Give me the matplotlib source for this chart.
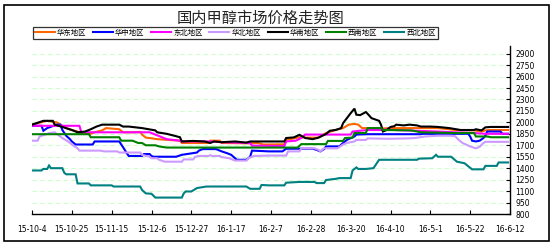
import matplotlib
matplotlib.use("Agg")
import matplotlib.pyplot as plt
import matplotlib.dates as mdates
from matplotlib.patches import Rectangle
import datetime as dt

plt.rcParams['font.family'] = ['Noto Sans CJK SC', 'DejaVu Sans']

title = "国内甲醇市场价格走势图"
series_names = ["华东地区", "华中地区", "东北地区", "华北地区", "华南地区", "西南地区", "西北地区"]
series_colors = ["#FF6600", "#0000FF", "#FF00FF", "#CC99FF", "#000000", "#008000", "#008080"]
start_date = dt.date(2015, 10, 4)
end_date = dt.date(2016, 6, 12)
x_tick_labels = ['15-10-4', '15-10-25', '15-11-15', '15-12-6', '15-12-27', '16-1-17', '16-2-7',
                 '16-2-28', '16-3-20', '16-4-10', '16-5-1', '16-5-22', '16-6-12']
y_ticks = list(range(800, 3000, 150))

# day offsets from 2015-10-04 and prices (yuan/ton)
east_days = [0, 3, 8, 13, 15, 18, 21, 24, 25, 31, 33, 37, 39, 46, 48, 53, 57, 58, 60, 62, 66, 72, 78, 79, 93, 94, 99, 100, 115, 119, 122, 133, 134, 139, 142, 144, 151, 155, 160, 164, 167, 170, 172, 174, 177, 183, 188, 214, 220, 223, 233, 237, 239, 242, 251]
east_vals = [1970, 1990, 2020, 2000, 1970, 1925, 1900, 1880, 1860, 1850, 1870, 1895, 1925, 1910, 1870, 1870, 1875, 1840, 1800, 1795, 1780, 1770, 1760, 1730, 1730, 1760, 1760, 1730, 1725, 1730, 1710, 1712, 1770, 1795, 1810, 1800, 1800, 1860, 1900, 1925, 1970, 1980, 1970, 1925, 1925, 1915, 1925, 1925, 1910, 1900, 1895, 1880, 1895, 1900, 1900]

central_days = [0, 5, 6, 8, 13, 15, 16, 18, 20, 21, 23, 32, 33, 46, 48, 50, 51, 58, 59, 62, 63, 64, 76, 79, 87, 88, 90, 97, 100, 103, 105, 108, 113, 115, 116, 125, 132, 134, 148, 150, 152, 154, 155, 162, 164, 166, 170, 171, 177, 205, 206, 230, 231, 232, 234, 236, 238, 239, 240, 247, 248, 251]
central_vals = [1955, 1955, 1890, 1925, 1970, 1970, 1900, 1825, 1780, 1750, 1710, 1710, 1750, 1750, 1675, 1595, 1560, 1560, 1585, 1585, 1560, 1550, 1550, 1575, 1605, 1630, 1650, 1650, 1620, 1595, 1575, 1510, 1510, 1550, 1630, 1620, 1620, 1655, 1655, 1640, 1620, 1650, 1685, 1685, 1730, 1770, 1815, 1840, 1845, 1845, 1850, 1850, 1815, 1760, 1750, 1760, 1795, 1825, 1880, 1880, 1850, 1850]

northeast_days = [0, 25, 26, 62, 64, 71, 78, 79, 94, 100, 115, 116, 133, 134, 139, 142, 144, 168, 169, 177, 184, 185, 214, 223, 233, 239, 251]
northeast_vals = [1955, 1955, 1870, 1870, 1850, 1780, 1760, 1750, 1750, 1740, 1730, 1695, 1690, 1750, 1760, 1795, 1840, 1840, 1880, 1900, 1900, 1905, 1880, 1870, 1860, 1850, 1850]

north_days = [0, 3, 4, 7, 9, 12, 13, 16, 19, 21, 24, 25, 36, 38, 45, 46, 57, 58, 62, 63, 66, 67, 70, 79, 80, 85, 86, 88, 93, 94, 95, 99, 100, 104, 107, 113, 114, 117, 125, 134, 135, 141, 142, 149, 151, 152, 153, 154, 161, 164, 166, 170, 171, 176, 177, 188, 198, 202, 207, 214, 220, 223, 225, 227, 231, 234, 236, 238, 239, 251]
north_vals = [1760, 1760, 1815, 1840, 1860, 1870, 1850, 1795, 1750, 1710, 1660, 1630, 1630, 1620, 1620, 1605, 1605, 1575, 1550, 1530, 1530, 1510, 1485, 1485, 1515, 1515, 1550, 1560, 1560, 1570, 1560, 1560, 1545, 1530, 1500, 1500, 1530, 1560, 1565, 1565, 1620, 1620, 1660, 1660, 1640, 1620, 1640, 1660, 1660, 1710, 1730, 1750, 1770, 1770, 1790, 1785, 1790, 1795, 1815, 1825, 1825, 1820, 1770, 1730, 1685, 1660, 1680, 1730, 1745, 1745]

south_days = [0, 6, 11, 12, 16, 21, 24, 28, 31, 34, 37, 46, 48, 51, 58, 65, 66, 71, 75, 78, 79, 85, 91, 94, 96, 100, 107, 113, 115, 125, 133, 134, 138, 141, 143, 144, 148, 151, 155, 157, 160, 163, 164, 166, 168, 170, 171, 173, 176, 177, 179, 183, 184, 185, 187, 189, 191, 192, 196, 199, 203, 205, 210, 214, 220, 226, 233, 234, 237, 239, 242, 251]
south_vals = [1970, 2020, 2020, 1970, 1940, 1900, 1870, 1880, 1910, 1945, 1970, 1970, 1945, 1945, 1925, 1895, 1870, 1850, 1825, 1805, 1750, 1757, 1750, 1730, 1750, 1740, 1750, 1735, 1750, 1750, 1750, 1795, 1803, 1837, 1810, 1795, 1780, 1800, 1847, 1890, 1900, 1925, 1990, 2055, 2120, 2180, 2100, 2095, 2135, 2110, 2055, 2020, 1970, 1880, 1900, 1940, 1950, 1970, 1960, 1970, 1960, 1945, 1945, 1940, 1925, 1900, 1900, 1910, 1895, 1935, 1940, 1940]

southwest_days = [0, 30, 31, 46, 47, 53, 56, 58, 60, 65, 67, 71, 140, 142, 155, 156, 164, 165, 169, 170, 176, 177, 184, 185, 200, 205, 223, 233, 234, 240, 242, 251]
southwest_vals = [1845, 1845, 1805, 1805, 1760, 1760, 1730, 1730, 1700, 1700, 1685, 1670, 1670, 1715, 1715, 1757, 1757, 1795, 1800, 1860, 1860, 1925, 1925, 1900, 1895, 1870, 1860, 1860, 1815, 1815, 1805, 1805]

northwest_days = [0, 5, 6, 8, 9, 10, 16, 17, 18, 23, 24, 30, 31, 42, 43, 57, 58, 60, 63, 65, 79, 80, 81, 84, 87, 92, 113, 115, 120, 121, 125, 133, 134, 141, 149, 150, 154, 155, 160, 162, 168, 169, 171, 172, 176, 180, 183, 203, 204, 211, 213, 214, 221, 224, 228, 232, 238, 239, 245, 246, 251]
northwest_vals = [1370, 1370, 1390, 1390, 1435, 1400, 1400, 1340, 1320, 1320, 1200, 1200, 1175, 1175, 1160, 1160, 1115, 1070, 1065, 1015, 1015, 1070, 1095, 1095, 1140, 1160, 1160, 1130, 1130, 1180, 1175, 1175, 1210, 1220, 1220, 1205, 1205, 1245, 1260, 1270, 1270, 1370, 1410, 1390, 1390, 1400, 1510, 1510, 1525, 1530, 1575, 1550, 1550, 1485, 1465, 1385, 1385, 1430, 1430, 1475, 1475]

all_days = [east_days, central_days, northeast_days, north_days, south_days, southwest_days, northwest_days]
all_vals = [east_vals, central_vals, northeast_vals, north_vals, south_vals, southwest_vals, northwest_vals]

W, H = 553, 247
fig = plt.figure(figsize=(W / 100, H / 100), dpi=100)
fig.patch.set_facecolor('white')
fig.add_artist(Rectangle((4 / W, 6 / H), 545 / W, 236 / H, transform=fig.transFigure,
                         fill=False, edgecolor='black', linewidth=1.2))

ax = fig.add_axes([32 / W, (H - 214) / H, (510 - 32) / W, (214 - 46) / H])
ax.set_facecolor('white')

lines = []
for days, vals, name, col in zip(all_days, all_vals, series_names, series_colors):
    dates = [start_date + dt.timedelta(days=d) for d in days]
    ln, = ax.plot(dates, vals, color=col, linewidth=1.5, label=name, solid_joinstyle='miter')
    lines.append(ln)

ax.set_xlim(start_date, end_date)
ax.set_ylim(800, 3000)
tick_dates = [start_date + dt.timedelta(days=21 * i) for i in range(len(x_tick_labels))]
ax.set_xticks(tick_dates)
ax.set_xticklabels(x_tick_labels, fontsize=5.5, family=['DejaVu Sans'])
ax.yaxis.tick_right()
ax.set_yticks(y_ticks)
ax.set_yticklabels([str(v) for v in y_ticks], fontsize=5.5, family=['DejaVu Sans'])
ax.tick_params(axis='x', direction='in', length=3, width=0.8, pad=8)
ax.tick_params(axis='y', direction='in', length=3, width=0.8, pad=4, right=True, left=False)
for v in y_ticks[1:]:
    ax.axhline(v, color='#ccffcc', linestyle=(0, (4, 3)), linewidth=0.8, zorder=0)
for s in ['left', 'top']:
    ax.spines[s].set_visible(False)
ax.spines['bottom'].set_linewidth(1.0)
ax.spines['right'].set_linewidth(1.0)

fig.text(261 / W, 1 - 18 / H, title, ha='center', va='center', fontsize=11, color='#222222')

leg = fig.legend(handles=lines, labels=series_names, loc='center left',
                 bbox_to_anchor=(33 / W, 1 - 33 / H), ncol=7, fontsize=5.3,
                 frameon=True, fancybox=False, edgecolor='black', handlelength=2.7,
                 handletextpad=0.3, columnspacing=0.9, borderpad=0.25, borderaxespad=0)
leg.get_frame().set_linewidth(0.9)

fig.savefig("out.png", dpi=100)
